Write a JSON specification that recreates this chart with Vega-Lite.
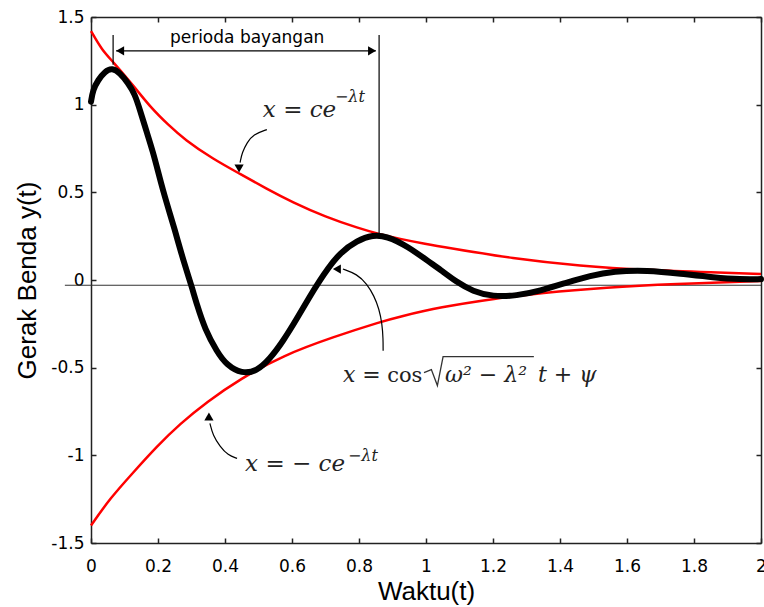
{
  "$schema": "https://vega.github.io/schema/vega-lite/v6.json",
  "width": 670,
  "height": 526,
  "autosize": {"type": "none"},
  "padding": {"left": 91, "top": 17, "right": 3, "bottom": 64},
  "background": "white",
  "config": {
    "view": {"stroke": null},
    "axis": {
      "labelFont": "DejaVu Sans",
      "labelFontSize": 17,
      "labelColor": "#000",
      "domainColor": "#222",
      "domainWidth": 1.5,
      "tickColor": "#222",
      "tickWidth": 1.5,
      "tickSize": -5,
      "titleFont": "Liberation Sans",
      "titleFontSize": 26,
      "titleFontWeight": "normal",
      "titleColor": "#000",
      "grid": false,
      "labelFlush": false,
      "labelOverlap": false
    }
  },
  "datasets": {
    "motion": [
      {"t": 0, "y": 1.017}, {"t": 0.006, "y": 1.085}, {"t": 0.021, "y": 1.14}, {"t": 0.042, "y": 1.19},
      {"t": 0.063, "y": 1.21}, {"t": 0.087, "y": 1.18}, {"t": 0.11, "y": 1.125}, {"t": 0.131, "y": 1.06},
      {"t": 0.146, "y": 0.97}, {"t": 0.167, "y": 0.84}, {"t": 0.185, "y": 0.73}, {"t": 0.2, "y": 0.62},
      {"t": 0.215, "y": 0.51}, {"t": 0.236, "y": 0.375}, {"t": 0.251, "y": 0.28}, {"t": 0.266, "y": 0.176},
      {"t": 0.281, "y": 0.08}, {"t": 0.301, "y": -0.04}, {"t": 0.316, "y": -0.14}, {"t": 0.34, "y": -0.28},
      {"t": 0.376, "y": -0.41}, {"t": 0.405, "y": -0.485}, {"t": 0.45, "y": -0.535}, {"t": 0.495, "y": -0.52},
      {"t": 0.534, "y": -0.45}, {"t": 0.573, "y": -0.35}, {"t": 0.615, "y": -0.22}, {"t": 0.654, "y": -0.09},
      {"t": 0.684, "y": 0.0}, {"t": 0.705, "y": 0.06}, {"t": 0.743, "y": 0.155}, {"t": 0.794, "y": 0.225},
      {"t": 0.842, "y": 0.258}, {"t": 0.883, "y": 0.25}, {"t": 0.943, "y": 0.195}, {"t": 1.012, "y": 0.1},
      {"t": 1.042, "y": 0.06}, {"t": 1.09, "y": -0.01}, {"t": 1.14, "y": -0.065}, {"t": 1.2, "y": -0.095},
      {"t": 1.27, "y": -0.09}, {"t": 1.34, "y": -0.062}, {"t": 1.42, "y": -0.015}, {"t": 1.49, "y": 0.025},
      {"t": 1.56, "y": 0.05}, {"t": 1.66, "y": 0.056}, {"t": 1.76, "y": 0.036}, {"t": 1.86, "y": 0.014},
      {"t": 1.94, "y": 0.003}, {"t": 2.0, "y": 0.005}
    ],
    "envelope": [
      {"series": "upper", "t": 0, "y": 1.42}, {"series": "upper", "t": 0.033, "y": 1.31}, {"series": "upper", "t": 0.066, "y": 1.245},
      {"series": "upper", "t": 0.13, "y": 1.1}, {"series": "upper", "t": 0.18, "y": 0.98}, {"series": "upper", "t": 0.23, "y": 0.886},
      {"series": "upper", "t": 0.28, "y": 0.8}, {"series": "upper", "t": 0.364, "y": 0.69}, {"series": "upper", "t": 0.445, "y": 0.605},
      {"series": "upper", "t": 0.525, "y": 0.52}, {"series": "upper", "t": 0.6, "y": 0.445}, {"series": "upper", "t": 0.7, "y": 0.36},
      {"series": "upper", "t": 0.8, "y": 0.295}, {"series": "upper", "t": 0.86, "y": 0.262}, {"series": "upper", "t": 0.92, "y": 0.235},
      {"series": "upper", "t": 1.0, "y": 0.205}, {"series": "upper", "t": 1.06, "y": 0.185}, {"series": "upper", "t": 1.26, "y": 0.122},
      {"series": "upper", "t": 1.46, "y": 0.08}, {"series": "upper", "t": 1.66, "y": 0.056}, {"series": "upper", "t": 1.86, "y": 0.043},
      {"series": "upper", "t": 2.0, "y": 0.034},
      {"series": "lower", "t": 0, "y": -1.4}, {"series": "lower", "t": 0.057, "y": -1.245}, {"series": "lower", "t": 0.125, "y": -1.1},
      {"series": "lower", "t": 0.196, "y": -0.95}, {"series": "lower", "t": 0.266, "y": -0.82}, {"series": "lower", "t": 0.346, "y": -0.695},
      {"series": "lower", "t": 0.445, "y": -0.565}, {"series": "lower", "t": 0.573, "y": -0.43}, {"series": "lower", "t": 0.723, "y": -0.325},
      {"series": "lower", "t": 0.87, "y": -0.235}, {"series": "lower", "t": 0.92, "y": -0.21}, {"series": "lower", "t": 1.04, "y": -0.155},
      {"series": "lower", "t": 1.21, "y": -0.105}, {"series": "lower", "t": 1.34, "y": -0.074}, {"series": "lower", "t": 1.54, "y": -0.042},
      {"series": "lower", "t": 1.74, "y": -0.023}, {"series": "lower", "t": 2.0, "y": -0.006}
    ],
    "baseline": [{"t": -0.078, "t2": 2, "y": -0.03, "y2": -0.03}],
    "guides": [
      {"t": 0.066, "t2": 0.066, "y": 1.398, "y2": 1.227},
      {"t": 0.86, "t2": 0.86, "y": 1.398, "y2": 0.244},
      {"t": 0.075, "t2": 0.85, "y": 1.307, "y2": 1.307}
    ],
    "arrows": [
      {"arrow": "a1", "i": 0, "t": 0.525, "y": 0.858}, {"arrow": "a1", "i": 1, "t": 0.484, "y": 0.83},
      {"arrow": "a1", "i": 2, "t": 0.466, "y": 0.784}, {"arrow": "a1", "i": 3, "t": 0.451, "y": 0.727},
      {"arrow": "a1", "i": 4, "t": 0.445, "y": 0.67},
      {"arrow": "a2", "i": 0, "t": 0.872, "y": -0.403}, {"arrow": "a2", "i": 1, "t": 0.872, "y": -0.335},
      {"arrow": "a2", "i": 2, "t": 0.869, "y": -0.25}, {"arrow": "a2", "i": 3, "t": 0.86, "y": -0.165},
      {"arrow": "a2", "i": 4, "t": 0.845, "y": -0.091}, {"arrow": "a2", "i": 5, "t": 0.824, "y": -0.023},
      {"arrow": "a2", "i": 6, "t": 0.794, "y": 0.034}, {"arrow": "a2", "i": 7, "t": 0.752, "y": 0.0625},
      {"arrow": "a3", "i": 0, "t": 0.436, "y": -1.017}, {"arrow": "a3", "i": 1, "t": 0.409, "y": -1.0},
      {"arrow": "a3", "i": 2, "t": 0.385, "y": -0.949}, {"arrow": "a3", "i": 3, "t": 0.364, "y": -0.886},
      {"arrow": "a3", "i": 4, "t": 0.355, "y": -0.818}
    ],
    "heads": [
      {"dir": "down", "t": 0.442, "y": 0.636},
      {"dir": "left", "t": 0.734, "y": 0.0625},
      {"dir": "up", "t": 0.352, "y": -0.778},
      {"dir": "left", "t": 0.087, "y": 1.307},
      {"dir": "right", "t": 0.839, "y": 1.307}
    ],
    "radical": [
      {"i": 0, "t": 0.994, "y": -0.528}, {"i": 1, "t": 1.016, "y": -0.511},
      {"i": 2, "t": 1.034, "y": -0.602}, {"i": 3, "t": 1.051, "y": -0.4375},
      {"i": 4, "t": 1.322, "y": -0.4375}
    ],
    "ann": [
      {"kind": "label", "text": "perioda bayangan", "t": 0.466, "y": 1.352},
      {"kind": "big", "text": "x = ce", "t": 0.513, "y": 0.93},
      {"kind": "sup", "text": "−λt", "t": 0.728, "y": 1.015},
      {"kind": "big", "text": "x = − ce", "t": 0.46, "y": -1.091},
      {"kind": "sup", "text": "−λt", "t": 0.767, "y": -1.03},
      {"kind": "math", "text": "x =", "t": 0.752, "y": -0.58},
      {"kind": "upright", "text": "cos", "t": 0.884, "y": -0.58},
      {"kind": "math", "text": "ω² − λ²", "t": 1.057, "y": -0.58},
      {"kind": "math", "text": "t + ψ", "t": 1.334, "y": -0.58}
    ]
  },
  "resolve": {"axis": {"x": "independent", "y": "independent"}},
  "layer": [
    {
      "data": {"name": "baseline"},
      "mark": {"type": "rule", "color": "#333", "strokeWidth": 1.2, "clip": false},
      "encoding": {
        "x": {"field": "t", "type": "quantitative", "scale": {"domain": [0, 2], "nice": false, "zero": false}, "axis": null},
        "x2": {"field": "t2"},
        "y": {"field": "y", "type": "quantitative", "scale": {"domain": [-1.5, 1.5], "nice": false, "zero": false}, "axis": null}
      }
    },
    {
      "data": {"name": "envelope"},
      "mark": {"type": "line", "color": "#ff0000", "strokeWidth": 2.5, "interpolate": "basis"},
      "encoding": {
        "x": {"field": "t", "type": "quantitative", "scale": {"domain": [0, 2], "nice": false, "zero": false},
              "axis": {"orient": "top", "values": [0, 0.2, 0.4, 0.6, 0.8, 1, 1.2, 1.4, 1.6, 1.8, 2], "labels": false, "title": null}},
        "y": {"field": "y", "type": "quantitative", "scale": {"domain": [-1.5, 1.5], "nice": false, "zero": false},
              "axis": {"orient": "right", "values": [-1.5, -1, -0.5, 0, 0.5, 1, 1.5], "labels": false, "title": null}},
        "detail": {"field": "series"}
      }
    },
    {
      "data": {"name": "motion"},
      "mark": {"type": "line", "color": "#000", "strokeWidth": 6, "interpolate": "basis", "strokeCap": "round", "strokeJoin": "round"},
      "encoding": {
        "x": {"field": "t", "type": "quantitative", "scale": {"domain": [0, 2], "nice": false, "zero": false},
              "axis": {"orient": "bottom", "values": [0, 0.2, 0.4, 0.6, 0.8, 1, 1.2, 1.4, 1.6, 1.8, 2], "labelExpr": "'' + datum.value", "title": "Waktu(t)", "labelPadding": 20, "titlePadding": 4}},
        "y": {"field": "y", "type": "quantitative", "scale": {"domain": [-1.5, 1.5], "nice": false, "zero": false},
              "axis": {"orient": "left", "values": [-1.5, -1, -0.5, 0, 0.5, 1, 1.5], "labelExpr": "'' + datum.value", "title": "Gerak Benda y(t)", "labelPadding": 12, "titlePadding": 10}}
      }
    },
    {
      "data": {"name": "guides"},
      "mark": {"type": "rule", "color": "#000", "strokeWidth": 1.2},
      "encoding": {
        "x": {"field": "t", "type": "quantitative", "axis": null},
        "x2": {"field": "t2"},
        "y": {"field": "y", "type": "quantitative", "axis": null},
        "y2": {"field": "y2"}
      }
    },
    {
      "data": {"name": "arrows"},
      "mark": {"type": "line", "color": "#000", "strokeWidth": 1.2, "interpolate": "basis"},
      "encoding": {
        "x": {"field": "t", "type": "quantitative", "axis": null},
        "y": {"field": "y", "type": "quantitative", "axis": null},
        "detail": {"field": "arrow"},
        "order": {"field": "i"}
      }
    },
    {
      "data": {"name": "heads"},
      "mark": {"type": "point", "filled": true, "color": "#000", "size": 85, "opacity": 1},
      "encoding": {
        "x": {"field": "t", "type": "quantitative", "axis": null},
        "y": {"field": "y", "type": "quantitative", "axis": null},
        "shape": {"field": "dir", "type": "nominal", "legend": null,
                  "scale": {"domain": ["down", "left", "up", "right"], "range": ["triangle-down", "triangle-left", "triangle-up", "triangle-right"]}}
      }
    },
    {
      "data": {"name": "radical"},
      "mark": {"type": "line", "color": "#333", "strokeWidth": 1.3},
      "encoding": {
        "x": {"field": "t", "type": "quantitative", "axis": null},
        "y": {"field": "y", "type": "quantitative", "axis": null},
        "order": {"field": "i"}
      }
    },
    {
      "data": {"name": "ann"},
      "transform": [{"filter": "datum.kind === 'label'"}],
      "mark": {"type": "text", "font": "DejaVu Sans", "fontSize": 17, "align": "center", "baseline": "alphabetic", "color": "#000"},
      "encoding": {
        "x": {"field": "t", "type": "quantitative", "axis": null},
        "y": {"field": "y", "type": "quantitative", "axis": null},
        "text": {"field": "text"}
      }
    },
    {
      "data": {"name": "ann"},
      "transform": [{"filter": "datum.kind === 'big'"}],
      "mark": {"type": "text", "font": "DejaVu Serif", "fontStyle": "italic", "fontSize": 23, "align": "left", "baseline": "alphabetic", "color": "#222"},
      "encoding": {
        "x": {"field": "t", "type": "quantitative", "axis": null},
        "y": {"field": "y", "type": "quantitative", "axis": null},
        "text": {"field": "text"}
      }
    },
    {
      "data": {"name": "ann"},
      "transform": [{"filter": "datum.kind === 'math'"}],
      "mark": {"type": "text", "font": "DejaVu Serif", "fontStyle": "italic", "fontSize": 22, "align": "left", "baseline": "alphabetic", "color": "#222"},
      "encoding": {
        "x": {"field": "t", "type": "quantitative", "axis": null},
        "y": {"field": "y", "type": "quantitative", "axis": null},
        "text": {"field": "text"}
      }
    },
    {
      "data": {"name": "ann"},
      "transform": [{"filter": "datum.kind === 'sup'"}],
      "mark": {"type": "text", "font": "DejaVu Serif", "fontStyle": "italic", "fontSize": 16, "align": "left", "baseline": "alphabetic", "color": "#222"},
      "encoding": {
        "x": {"field": "t", "type": "quantitative", "axis": null},
        "y": {"field": "y", "type": "quantitative", "axis": null},
        "text": {"field": "text"}
      }
    },
    {
      "data": {"name": "ann"},
      "transform": [{"filter": "datum.kind === 'upright'"}],
      "mark": {"type": "text", "font": "DejaVu Serif", "fontSize": 21, "align": "left", "baseline": "alphabetic", "color": "#222"},
      "encoding": {
        "x": {"field": "t", "type": "quantitative", "axis": null},
        "y": {"field": "y", "type": "quantitative", "axis": null},
        "text": {"field": "text"}
      }
    }
  ]
}
